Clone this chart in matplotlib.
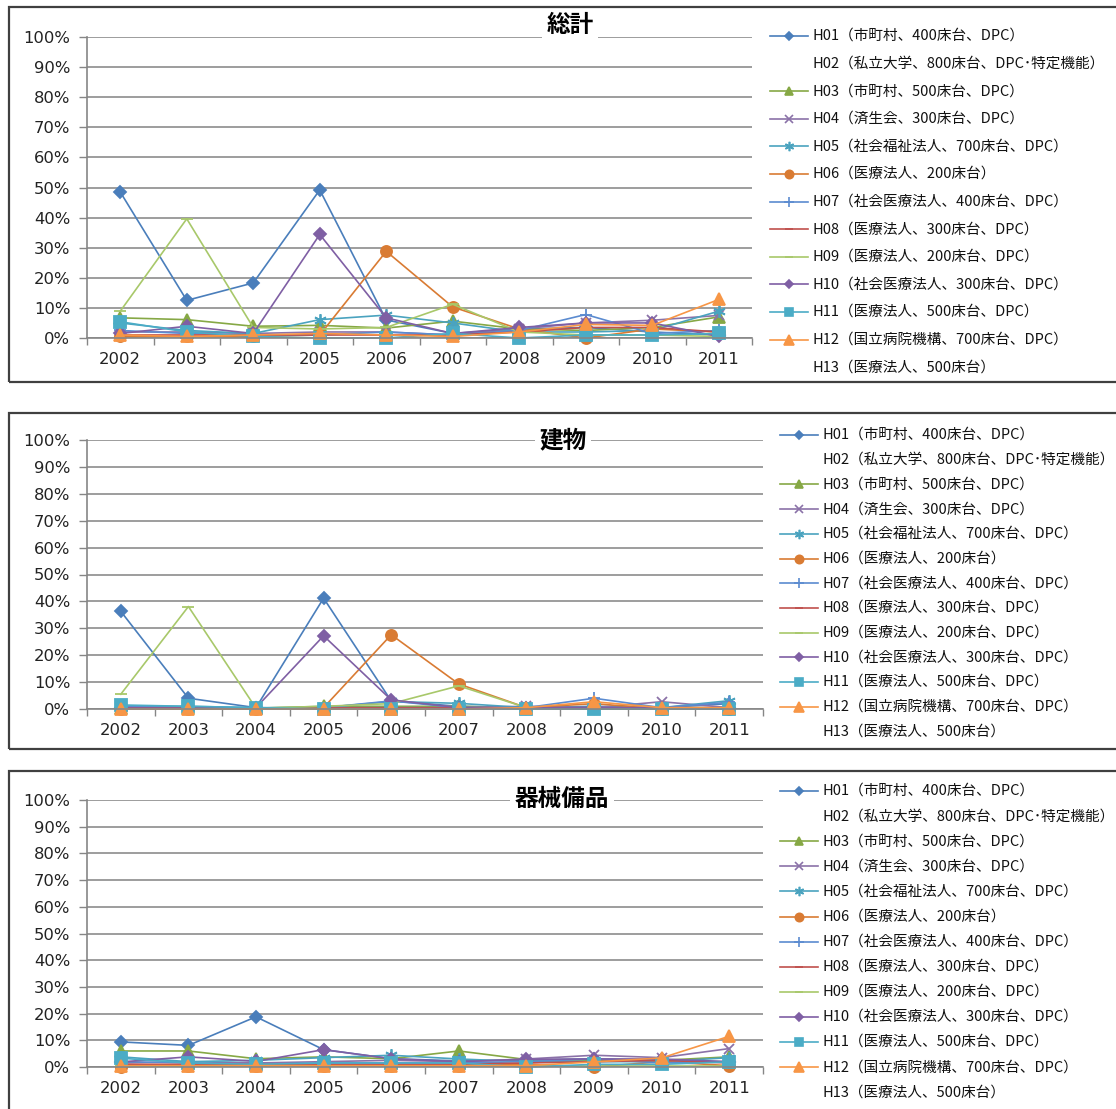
import matplotlib
matplotlib.use('Agg')
import matplotlib.pyplot as plt
from matplotlib.lines import Line2D
from matplotlib.patches import Rectangle
from matplotlib.ticker import FuncFormatter

plt.rcParams['font.family'] = ['Noto Sans CJK JP', 'DejaVu Sans']

years = ['2002', '2003', '2004', '2005', '2006', '2007', '2008', '2009', '2010', '2011']

hospital_labels = [
    'H01（市町村、400床台、DPC）',
    'H02（私立大学、800床台、DPC･特定機能）',
    'H03（市町村、500床台、DPC）',
    'H04（済生会、300床台、DPC）',
    'H05（社会福祉法人、700床台、DPC）',
    'H06（医療法人、200床台）',
    'H07（社会医療法人、400床台、DPC）',
    'H08（医療法人、300床台、DPC）',
    'H09（医療法人、200床台、DPC）',
    'H10（社会医療法人、300床台、DPC）',
    'H11（医療法人、500床台、DPC）',
    'H12（国立病院機構、700床台、DPC）',
    'H13（医療法人、500床台）',
]

panel_titles = ['総計', '建物', '器械備品']

# values in percent (H02 and H13 have no line in the original chart)
total = {
    'H01': [48.5, 12.5, 18.3, 49.2, 6.0, 1.5, 3.0, 3.5, 2.0, 1.0],
    'H03': [6.7, 6.1, 3.9, 4.2, 3.3, 5.6, 3.0, 2.5, 3.5, 7.0],
    'H04': [2.0, 2.0, 1.5, 2.0, 2.0, 1.0, 3.0, 5.0, 5.9, 7.5],
    'H05': [5.0, 2.5, 1.5, 6.1, 7.6, 5.0, 2.0, 2.0, 2.5, 8.9],
    'H06': [0.5, 0.5, 0.5, 1.0, 28.8, 10.3, 3.0, 0.0, 3.0, 2.0],
    'H07': [2.5, 1.5, 1.0, 1.0, 2.0, 1.0, 2.5, 7.8, 1.5, 2.5],
    'H08': [1.0, 1.0, 1.0, 1.0, 1.0, 1.0, 2.0, 3.5, 3.5, 2.0],
    'H09': [8.9, 39.6, 3.5, 3.0, 3.5, 11.2, 2.0, 1.0, 1.0, 0.5],
    'H10': [1.5, 3.9, 1.5, 34.4, 6.7, 1.5, 3.5, 5.0, 5.0, 0.5],
    'H11': [5.4, 2.0, 0.5, 0.0, 0.0, 1.5, 0.0, 1.0, 1.0, 1.5],
    'H12': [1.0, 0.5, 1.0, 1.5, 1.0, 0.5, 2.0, 4.5, 4.2, 12.8],
}

building = {
    'H01': [36.3, 4.0, 0.5, 41.2, 3.0, 1.0, 0.5, 1.0, 0.5, 2.0],
    'H03': [0.5, 0.5, 0.3, 1.0, 1.0, 1.0, 0.5, 0.5, 0.5, 0.5],
    'H04': [0.5, 0.5, 0.3, 0.5, 0.5, 0.5, 1.0, 0.5, 2.7, 0.5],
    'H05': [1.0, 1.0, 0.5, 0.5, 2.8, 2.1, 0.5, 0.5, 0.5, 3.1],
    'H06': [0.0, 0.0, 0.0, 0.5, 27.6, 9.3, 0.5, 2.0, 0.0, 0.0],
    'H07': [1.0, 0.5, 0.3, 0.5, 3.0, 0.5, 0.5, 4.0, 0.5, 2.5],
    'H08': [0.2, 0.2, 0.2, 0.2, 0.2, 0.2, 0.2, 0.2, 0.2, 0.2],
    'H09': [5.5, 38.1, 0.3, 1.0, 2.0, 8.6, 0.5, 0.0, 0.0, 0.0],
    'H10': [0.3, 0.3, 0.5, 27.2, 3.4, 0.5, 0.5, 0.5, 0.5, 0.5],
    'H11': [1.5, 1.0, 0.5, 0.0, 0.0, 0.0, 0.0, 0.0, 0.0, 0.0],
    'H12': [0.0, 0.0, 0.0, 0.0, 0.0, 0.0, 0.5, 2.7, 0.5, 0.5],
}

equipment = {
    'H01': [9.4, 8.1, 18.8, 6.5, 3.1, 2.3, 2.5, 3.1, 2.5, 1.9],
    'H03': [6.0, 6.0, 3.1, 3.8, 3.1, 6.0, 2.8, 2.5, 2.5, 3.8],
    'H04': [1.5, 2.0, 1.5, 2.0, 2.5, 2.0, 3.0, 4.4, 3.5, 6.9],
    'H05': [3.8, 2.0, 2.5, 3.5, 4.4, 3.0, 2.0, 2.0, 2.0, 3.5],
    'H06': [0.0, 0.5, 0.5, 0.5, 0.5, 0.5, 1.0, 0.0, 2.0, 0.5],
    'H07': [2.0, 1.5, 1.0, 1.5, 1.5, 1.5, 2.0, 3.0, 1.5, 2.0],
    'H08': [1.0, 1.0, 1.0, 1.0, 1.0, 1.0, 1.5, 2.0, 2.5, 1.5],
    'H09': [0.5, 0.5, 0.5, 0.5, 0.5, 0.5, 0.5, 0.5, 0.5, 0.5],
    'H10': [1.9, 3.8, 2.1, 6.5, 3.1, 2.0, 2.9, 3.0, 3.0, 2.0],
    'H11': [3.3, 1.5, 1.0, 1.5, 1.5, 1.5, 0.0, 1.0, 1.0, 1.9],
    'H12': [0.5, 0.5, 0.5, 0.5, 0.5, 0.5, 0.5, 1.9, 3.4, 11.5],
}

# per-series style (None -> no line in the original chart)
styles = {
    'H01': dict(color='#4A7EBB', marker='D', ms=6),
    'H02': None,
    'H03': dict(color='#86A845', marker='^', ms=8),
    'H04': dict(color='#8B72A8', marker='x', ms=7),
    'H05': dict(color='#4AA3BF', marker=(6, 2, 0), ms=9),
    'H06': dict(color='#D97B33', marker='o', ms=8),
    'H07': dict(color='#5B8BD0', marker='+', ms=9),
    'H08': dict(color='#C0504D', marker='_', ms=7),
    'H09': dict(color='#A8C86A', marker='_', ms=8),
    'H10': dict(color='#7F5FA4', marker='D', ms=6),
    'H11': dict(color='#4BACC6', marker='s', ms=8),
    'H12': dict(color='#F79646', marker='^', ms=9),
    'H13': None,
}

W, H = 1116, 1109

# layout in pixels: box, axes, title centre, legend
panels = [
    dict(data=total, box=(9, 7, 1130, 382), ax=(87, 37, 752, 338),
         title=(570, 25), leg=(36, 27.6, 770, 808, 813)),
    dict(data=building, box=(9, 413, 1130, 749), ax=(87, 440, 763, 709),
         title=(563, 440), leg=(435, 24.7, 780, 818, 823)),
    dict(data=equipment, box=(9, 771, 1130, 1130), ax=(87, 800, 763, 1067),
         title=(562, 799), leg=(791, 25.1, 780, 818, 823)),
]


def fx(x):
    return x / W


def fy(y):
    return 1 - y / H


fig = plt.figure(figsize=(W / 100, H / 100), dpi=100)
fig.patch.set_facecolor('white')

for panel, title in zip(panels, panel_titles):
    bx0, by0, bx1, by1 = panel['box']
    fig.patches.append(Rectangle((fx(bx0), fy(by1)), fx(bx1 - bx0), (by1 - by0) / H,
                                 transform=fig.transFigure, fill=False,
                                 edgecolor='#404040', linewidth=1.6, zorder=10))

    l, t, r, b = panel['ax']
    ax = fig.add_axes([fx(l), fy(b), fx(r - l), (b - t) / H])
    x = list(range(len(years)))
    for key, st in styles.items():
        if st is None:
            continue
        ax.plot(x, panel['data'][key], color=st['color'], marker=st['marker'],
                markersize=st['ms'], markeredgewidth=1.3, linewidth=1.2,
                clip_on=False)

    ax.set_xlim(-0.5, len(years) - 0.5)
    ax.set_ylim(0, 100)
    ax.set_yticks(range(0, 101, 10))
    ax.yaxis.set_major_formatter(FuncFormatter(lambda v, p: f'{int(v)}%'))
    ax.set_xticks(x)
    ax.set_xticklabels(years)
    ax.set_xticks([i - 0.5 for i in range(len(years) + 1)], minor=True)
    ax.tick_params(axis='x', which='major', length=0, pad=10)
    ax.tick_params(axis='x', which='minor', length=5, color='#868686', width=1)
    ax.tick_params(axis='y', length=6, color='#868686', width=1, pad=6)
    for lab in ax.get_xticklabels() + ax.get_yticklabels():
        lab.set_fontfamily('DejaVu Sans')
        lab.set_fontsize(11.8)
        lab.set_color('#222222')
    ax.grid(axis='y', color='#8C8C8C', linewidth=1.2)
    ax.set_axisbelow(True)
    for side in ('top', 'right'):
        ax.spines[side].set_visible(False)
    for side in ('left', 'bottom'):
        ax.spines[side].set_color('#868686')
        ax.spines[side].set_linewidth(1.2)

    tx, ty = panel['title']
    fig.text(fx(tx), fy(ty), title, ha='center', va='center', fontsize=17,
             fontweight='bold', color='black', zorder=5,
             bbox=dict(facecolor='white', edgecolor='none', boxstyle='square,pad=0.2'))

    y0, dy, hx0, hx1, txt_x = panel['leg']
    for i, (key, label) in enumerate(zip(styles.keys(), hospital_labels)):
        yy = fy(y0 + i * dy)
        st = styles[key]
        if st is not None:
            fig.lines.append(Line2D([fx(hx0), fx(hx1)], [yy, yy], transform=fig.transFigure,
                                    color=st['color'], linewidth=1.2))
            fig.lines.append(Line2D([fx((hx0 + hx1) / 2)], [yy], transform=fig.transFigure,
                                    color=st['color'], marker=st['marker'],
                                    markersize=st['ms'] * 0.75, markeredgewidth=1.2,
                                    linestyle='none'))
        fig.text(fx(txt_x), yy, label, ha='left', va='center', fontsize=10.5, color='#111111')

fig.savefig('out.png', dpi=100)
